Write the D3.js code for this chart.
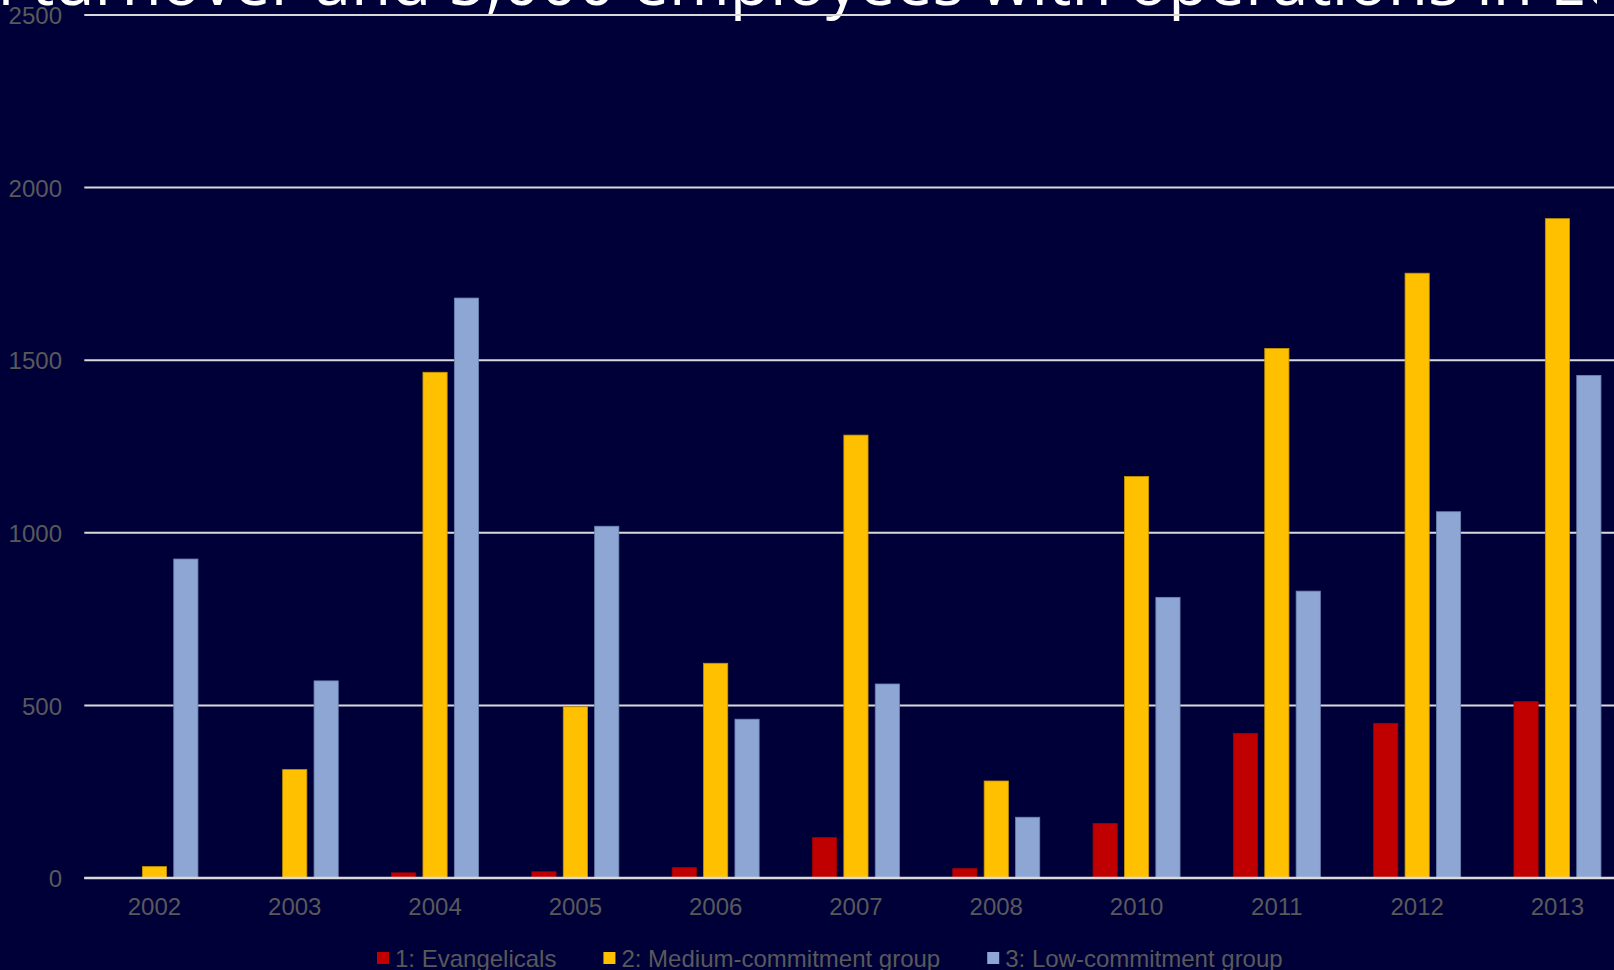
<!DOCTYPE html>
<html>
<head>
<meta charset="utf-8">
<script src="https://cdn.jsdelivr.net/npm/d3@7"></script>
<style>
  html, body { margin: 0; padding: 0; background: #000039; overflow: hidden; }
  svg { display: block; }
</style>
</head>
<body>
<div id="chart"></div>
<script>
// chart data
var years = ["2002", "2003", "2004", "2005", "2006", "2007", "2008", "2010", "2011", "2012", "2013"];
var seriesNames = ["1: Evangelicals", "2: Medium-commitment group", "3: Low-commitment group"];
var evangelicals = [0, 0, 15, 18, 30, 117, 27, 158, 419, 448, 511];
var mediumCommitment = [33, 314, 1465, 496, 622, 1283, 281, 1163, 1534, 1752, 1910];
var lowCommitment = [924, 571, 1680, 1019, 460, 562, 176, 813, 831, 1061, 1456];
var yTicks = [0, 500, 1000, 1500, 2000, 2500];
var titleText = "Companies with over €50 million turnover and 5,000 employees with operations in Europe";

var colors = ["#c00000", "#ffc000", "#8ea6d3"];
var strokes = ["#a00000", "#c89600", "#6d84b0"];

var width = 1614,
    height = 970;
var margin = {top: 15, left: 84.3, bottom: 92};
var plotBottom = height - margin.bottom;   // y of the zero line
var stepX = 140.3;

var svg = d3.select("#chart")
    .append("svg")
      .attr("width", width)
      .attr("height", height);

svg.append("rect")
    .attr("width", width)
    .attr("height", height)
    .attr("fill", "#000039");

// the title box is cut off at the top and right of the slide
svg.append("clipPath")
    .attr("id", "title-clip")
  .append("rect")
    .attr("x", 0)
    .attr("y", -100)
    .attr("width", 1597)
    .attr("height", 200);

var x = d3.scaleBand()
    .domain(years)
    .range([margin.left, margin.left + stepX * years.length])
    .paddingInner(0)
    .paddingOuter(0);

var xInner = d3.scaleBand()
    .domain(d3.range(seriesNames.length))
    .range([0, x.bandwidth()])
    .paddingInner(0.23)
    .paddingOuter(0.849);

var y = d3.scaleLinear()
    .domain([0, 2500])
    .range([plotBottom, margin.top]);

// title, clipped at the top edge of the page
var title = svg.append("text")
    .attr("x", 0)
    .attr("y", 5)
    .attr("clip-path", "url(#title-clip)")
    .attr("fill", "#ffffff")
    .attr("font-family", "Open Sans, sans-serif")
    .attr("font-size", 60)
    .text(titleText);
var startIdx = titleText.indexOf("turnover");
var endIdx = titleText.indexOf(" Europe") - 1;
var tn = title.node();
var fs = 60, tx = 0;
// fit so that "turnover" starts at x=31 and "in" ends at x=1533
for (var k = 0; k < 3; k++) {
    var a = tn.getStartPositionOfChar(startIdx).x;
    var b = tn.getEndPositionOfChar(endIdx).x;
    fs = fs * (1533 - 31) / (b - a);
    title.attr("font-size", fs);
    a = tn.getStartPositionOfChar(startIdx).x;
    tx = tx + (31 - a);
    title.attr("x", tx);
}

// gridlines
svg.append("g")
    .selectAll("line")
    .data(yTicks)
    .enter()
    .append("line")
      .attr("x1", margin.left)
      .attr("x2", width)
      .attr("y1", d => y(d))
      .attr("y2", d => y(d))
      .attr("stroke", "#d9d9d9")
      .attr("stroke-width", 2);

// y axis labels
var yAxis = d3.axisLeft(y)
    .tickValues(yTicks)
    .tickFormat(d3.format("d"))
    .tickSize(0)
    .tickPadding(0);

svg.append("g")
    .attr("transform", "translate(62,0)")
    .call(yAxis)
    .call(g => g.select(".domain").remove())
    .call(g => g.selectAll("text")
        .attr("fill", "#595959")
        .attr("font-family", "Liberation Sans, Arial, sans-serif")
        .attr("font-size", 24)
        .attr("dy", "0.36em"));

// bars
var allSeries = [evangelicals, mediumCommitment, lowCommitment];
allSeries.forEach((values, si) => {
    svg.append("g")
        .selectAll("rect")
        .data(values.map((v, i) => ({year: years[i], value: v})).filter(d => d.value > 0))
        .enter()
        .append("rect")
          .attr("x", d => x(d.year) + xInner(si))
          .attr("y", d => y(d.value))
          .attr("width", xInner.bandwidth())
          .attr("height", d => y(0) - y(d.value))
          .attr("fill", colors[si])
          .attr("stroke", strokes[si])
          .attr("stroke-width", 0.8);
});

// zero line on top of bars
svg.append("line")
    .attr("x1", margin.left)
    .attr("x2", width)
    .attr("y1", y(0))
    .attr("y2", y(0))
    .attr("stroke", "#d9d9d9")
    .attr("stroke-width", 2.5);

// x axis labels
var xAxis = d3.axisBottom(x).tickSize(0).tickPadding(0);
svg.append("g")
    .attr("transform", "translate(0,906)")
    .call(xAxis)
    .call(g => g.select(".domain").remove())
    .call(g => g.selectAll("text")
        .attr("fill", "#595959")
        .attr("font-family", "Liberation Sans, Arial, sans-serif")
        .attr("font-size", 24)
        .attr("dy", "0.36em"));

// legend
var legend = svg.append("g").attr("transform", "translate(377,958)");
var lx = 0;
seriesNames.forEach((name, i) => {
    legend.append("rect")
        .attr("x", lx)
        .attr("y", -6)
        .attr("width", 12)
        .attr("height", 12)
        .attr("fill", colors[i]);
    var t = legend.append("text")
        .attr("x", lx + 18)
        .attr("y", 0)
        .attr("dy", "0.36em")
        .attr("fill", "#595959")
        .attr("font-family", "Liberation Sans, Arial, sans-serif")
        .attr("font-size", 24)
        .text(name);
    lx += 18 + t.node().getComputedTextLength() + 47;
});
</script>
</body>
</html>
